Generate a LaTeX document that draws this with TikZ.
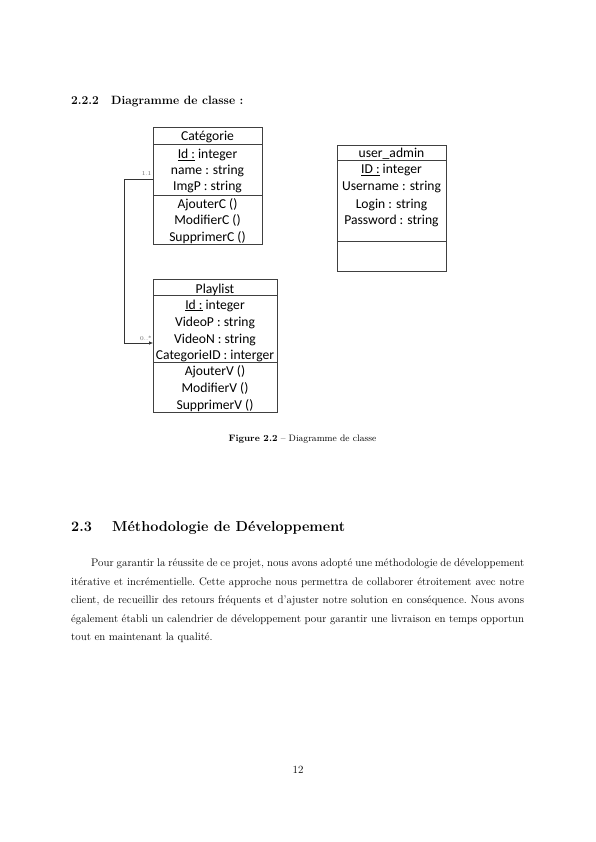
\documentclass[tikz,border=0pt]{standalone}
\usepackage{fontspec}
\newfontfamily\umlfont{Carlito}
\usetikzlibrary{arrows.meta}
\tikzset{
  umlbox/.style={draw=black!75, line width=0.6pt, inner sep=0pt, anchor=north west},
  umlsep/.style={draw=black!75, line width=0.6pt},
  umltxt/.style={anchor=base, inner sep=0pt, font=\umlfont\fontsize{13.6}{16}\selectfont},
  multlbl/.style={anchor=base, inner sep=0pt, text=black!60, font=\fontsize{6}{7}\selectfont},
  bodytxt/.style={anchor=base west, inner sep=0pt, font=\frenchspacing\fontsize{11}{13.6}\selectfont},
  assoc/.style={draw=black!80, line width=0.6pt, -{Latex[length=4pt,width=3.5pt]}}
}
\begin{document}
\begin{tikzpicture}[x=1pt,y=-1pt]
\useasboundingbox[fill=white] (0,0) rectangle (596,842);

% heading
\node[bodytxt, font=\bfseries\fontsize{12}{14}\selectfont] (h222) at (71,105) {2.2.2};
\node[bodytxt, font=\bfseries\fontsize{12}{14}\selectfont] (h222t) at (111,105) {Diagramme de classe :};

% Categorie class
\node[umlbox, minimum width=109pt, minimum height=116.5pt] (cat) at (153,127.5) {};
\draw[umlsep] (153,144.5) -- (262,144.5);
\draw[umlsep] (153,195) -- (262,195);
\node[umltxt] (catT) at (207.5,141) {Catégorie};
\node[umltxt] (catA1) at (207.5,158.5) {\underline{Id :} integer};
\node[umltxt] (catA2) at (207.5,175) {name : string};
\node[umltxt] (catA3) at (207.5,191) {ImgP : string};
\node[umltxt] (catM1) at (207.5,209) {AjouterC ()};
\node[umltxt] (catM2) at (207.5,225) {ModifierC ()};
\node[umltxt] (catM3) at (207.5,241) {SupprimerC ()};

% user_admin class
\node[umlbox, minimum width=109pt, minimum height=126pt] (adm) at (337,145) {};
\draw[umlsep] (337,160.5) -- (446,160.5);
\draw[umlsep] (337,241.5) -- (446,241.5);
\node[umltxt] (admT) at (391.5,158) {user\_admin};
\node[umltxt] (admA1) at (391.5,174) {\underline{ID :} integer};
\node[umltxt] (admA2) at (391.5,191) {Username : string};
\node[umltxt] (admA3) at (391.5,208) {Login : string};
\node[umltxt] (admA4) at (391.5,224) {Password : string};

% Playlist class
\node[umlbox, minimum width=124pt, minimum height=132.5pt] (pl) at (153,279.3) {};
\draw[umlsep] (153,295.5) -- (277,295.5);
\draw[umlsep] (153,362) -- (277,362);
\node[umltxt] (plT) at (215,293) {Playlist};
\node[umltxt] (plA1) at (215,309) {\underline{Id :} integer};
\node[umltxt] (plA2) at (215,326) {VideoP : string};
\node[umltxt] (plA3) at (215,343) {VideoN : string};
\node[umltxt] (plA4) at (215,359) {CategorieID : interger};
\node[umltxt] (plM1) at (215,375) {AjouterV ()};
\node[umltxt] (plM2) at (215,392) {ModifierV ()};
\node[umltxt] (plM3) at (215,409) {SupprimerV ()};

% association
\coordinate (catEnd) at (cat.west |- 0,179);
\coordinate (plEnd) at (pl.west |- 0,343);
\coordinate (bend) at (124.5,179);
\draw[assoc] (catEnd) -- (bend) |- (plEnd);
\node[multlbl] (m11) at (146.5,176) {1.1};
\node[multlbl] (m0n) at (146,340) {0..*};

% caption
\node[anchor=base, inner sep=0pt, font=\fontsize{9.3}{11}\selectfont] (cap) at (302.5,441) {\textbf{Figure 2.2} -- Diagramme de classe};

% section
\node[bodytxt, font=\bfseries\fontsize{14.4}{17}\selectfont] (s23) at (71,531) {2.3};
\node[bodytxt, font=\bfseries\fontsize{14.4}{17}\selectfont] (s23t) at (112,531) {Méthodologie de Développement};

% paragraph
\node[bodytxt] (p1) at (91,566) {\makebox[433pt][s]{Pour garantir la réussite de ce projet, nous avons adopté une méthodologie de développement}};
\node[bodytxt] (p2) at (71,585) {\makebox[453pt][s]{itérative et incrémentielle. Cette approche nous permettra de collaborer étroitement avec notre}};
\node[bodytxt] (p3) at (71,603.5) {\makebox[453pt][s]{client, de recueillir des retours fréquents et d'ajuster notre solution en conséquence. Nous avons}};
\node[bodytxt] (p4) at (71,622) {\makebox[453pt][s]{également établi un calendrier de développement pour garantir une livraison en temps opportun}};
\node[bodytxt] (p5) at (71,640.5) {tout en maintenant la qualité.};

% page number
\node[anchor=base, inner sep=0pt, font=\fontsize{11}{13.6}\selectfont] (pg) at (298,773.5) {12};
\end{tikzpicture}
\end{document}
